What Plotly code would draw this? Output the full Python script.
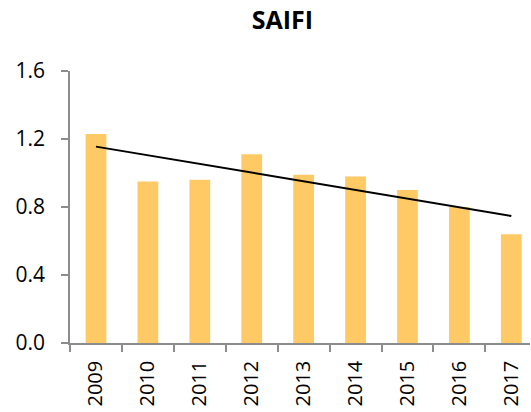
import numpy as np
import plotly.graph_objects as go

years = ["2009", "2010", "2011", "2012", "2013", "2014", "2015", "2016", "2017"]
saifi = [1.23, 0.95, 0.96, 1.11, 0.99, 0.98, 0.90, 0.80, 0.64]
y_ticks = [0.0, 0.4, 0.8, 1.2, 1.6]
y_tick_text = ["0.0", "0.4", "0.8", "1.2", "1.6"]

# linear trendline fitted to the data
xi = np.arange(len(saifi))
slope, intercept = np.polyfit(xi, saifi, 1)
trend = list(slope * xi + intercept)

font_family = "Open Sans, Liberation Sans, sans-serif"
axis_color = "#8c8c8c"

fig = go.Figure()
fig.add_trace(go.Bar(x=years, y=saifi, marker=dict(color="#FFCA66", line=dict(width=0)),
                     showlegend=False))
fig.add_trace(go.Scatter(x=years, y=trend, mode="lines",
                         line=dict(color="black", width=2), showlegend=False))

fig.update_layout(
    width=531, height=412,
    margin=dict(l=70, r=1, t=71, b=69, autoexpand=False),
    paper_bgcolor="white", plot_bgcolor="white",
    bargap=0.6,
    font=dict(family=font_family, color="black"),
    title=dict(text="<b>SAIFI</b>", x=0.532, xref="container", xanchor="center",
               y=0.951, yref="container", yanchor="middle",
               font=dict(size=25, family=font_family, color="black")),
)
fig.update_xaxes(
    type="category", range=[-0.5, 8.36], automargin=False,
    showline=True, linecolor=axis_color, linewidth=1.5,
    ticks="outside", tickson="boundaries", ticklen=7, tickcolor=axis_color, tickwidth=1.5,
    tickangle=-90, ticklabelstandoff=8,
    tickfont=dict(size=20, family=font_family, color="black"),
    showgrid=False, zeroline=False,
)
fig.update_yaxes(
    range=[0, 1.6], tickvals=y_ticks, ticktext=y_tick_text, automargin=False,
    showline=True, linecolor=axis_color, linewidth=1.5,
    ticks="outside", ticklen=7, tickcolor=axis_color, tickwidth=1.5,
    ticklabelstandoff=12,
    tickfont=dict(size=21, family=font_family, color="black"),
    showgrid=False, zeroline=False,
)

# remove the default page margin so the figure fills the window exactly
fig.write_html("out.html", config={"displayModeBar": False},
               post_script="document.body.style.margin='0';")
